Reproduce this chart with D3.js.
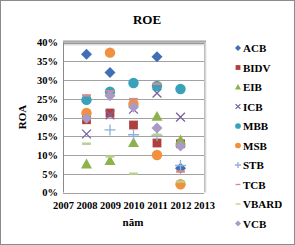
<!DOCTYPE html>
<html><head><meta charset="utf-8">
<script src="https://cdn.jsdelivr.net/npm/d3@7/dist/d3.min.js"></script>
<style>body{margin:0;background:#fff}svg{display:block}text{font-family:"Liberation Serif","Times New Roman",serif;font-weight:bold;fill:#000}</style>
</head><body><svg id="c" width="295" height="245"></svg>
<script>
const years = [2008, 2009, 2010, 2011, 2012];
const xTicks = [2007, 2008, 2009, 2010, 2011, 2012, 2013];
const yTicks = [0, 0.05, 0.10, 0.15, 0.20, 0.25, 0.30, 0.35, 0.40];
const seriesNames = ["ACB","BIDV","EIB","ICB","MBB","MSB","STB","TCB","VBARD","VCB"];
const ACB   = [0.369, 0.320, null,  0.362, 0.065];
const BIDV  = [0.194, 0.212, 0.180, 0.132, 0.130];
const EIB   = [0.076, 0.085, 0.133, 0.203, 0.140];
const ICB   = [0.156, 0.207, 0.222, 0.265, 0.201];
const MBB   = [0.247, 0.269, 0.292, 0.284, 0.276];
const MSB   = [0.212, 0.373, 0.236, 0.100, 0.022];
const STB   = [null,  0.167, 0.154, 0.152, 0.072];
const TCB   = [0.259, 0.270, 0.249, 0.290, 0.056];
const VBARD = [0.130, 0.096, 0.050, 0.154, 0.029];
const VCB   = [0.198, 0.258, 0.228, 0.172, 0.124];
const seriesValues = [ACB,BIDV,EIB,ICB,MBB,MSB,STB,TCB,VBARD,VCB];
const colors = ["#3F70B6","#B0403E","#8DB24C","#7A649E","#3AA1BA","#F0913F","#8FB0D8","#D58A8C","#B9CF8E","#A99AC6"];
const shapes = ["diamond","square","triangle","x","circle","circle","plus","dash","dash","diamond"];

const svg = d3.select("#c");
svg.append("rect").attr("x",0.5).attr("y",0.5).attr("width",294).attr("height",244).attr("fill","#fff").attr("stroke","#8c8c8c");

const L = 63, R = 204, T = 42.5, B = 192.5;
const x = d3.scaleLinear().domain([2007,2013]).range([L,R]);
const y = d3.scaleLinear().domain([0,0.40]).range([B,T]);

const defs = svg.append("defs");
const g1 = defs.append("linearGradient").attr("id","tg").attr("x1",0).attr("y1",0).attr("x2",0).attr("y2",1);
g1.append("stop").attr("offset","0").attr("stop-color","#9a9a9a");
g1.append("stop").attr("offset","1").attr("stop-color","#ffffff");
const g2 = defs.append("linearGradient").attr("id","rg").attr("x1",0).attr("y1",0).attr("x2",1).attr("y2",0);
g2.append("stop").attr("offset","0").attr("stop-color","#b0b0b0");
g2.append("stop").attr("offset","1").attr("stop-color","#ffffff");

svg.append("rect").attr("x",L).attr("y",T-2).attr("width",R-L+2).attr("height",6).attr("fill","url(#tg)");
svg.append("rect").attr("x",R).attr("y",T).attr("width",3).attr("height",B-T).attr("fill","url(#rg)");

// grid
svg.append("g").selectAll("line").data(yTicks).join("line")
  .attr("x1",L).attr("x2",R).attr("y1",d=>Math.round(y(d))+0.5).attr("y2",d=>Math.round(y(d))+0.5)
  .attr("stroke","#8a8a8a").attr("stroke-width",0.8);
svg.append("line").attr("x1",L+0.5).attr("x2",L+0.5).attr("y1",T).attr("y2",B).attr("stroke","#8a8a8a");

// axes
const ya = d3.axisLeft(y).tickValues(yTicks).tickFormat(d3.format(".0%")).tickSize(0).tickPadding(5);
const yg = svg.append("g").attr("transform",`translate(${L},0)`).call(ya);
yg.select(".domain").remove();
yg.selectAll("text").attr("font-size","10.5px").attr("font-family","Liberation Serif").attr("font-weight","bold").attr("fill","#000");
const xa = d3.axisBottom(x).tickValues(xTicks).tickFormat(d3.format("d")).tickSize(0).tickPadding(9);
const xg = svg.append("g").attr("transform",`translate(0,${B})`).call(xa);
xg.select(".domain").remove();
xg.selectAll("text").attr("font-size","10.5px").attr("font-family","Liberation Serif").attr("font-weight","bold").attr("fill","#000");

svg.append("text").attr("x",147).attr("y",24).attr("text-anchor","middle").attr("font-size","13px").text("ROE");
svg.append("text").attr("transform","translate(26,117) rotate(-90)").attr("text-anchor","middle").attr("font-size","11px").text("ROA");
svg.append("text").attr("x",133).attr("y",226).attr("text-anchor","middle").attr("font-size","11px").text("năm");

function drawMarker(sel, shape, color, s){
  if(shape==="diamond") sel.append("path").attr("d",`M0,${-s}L${s},0L0,${s}L${-s},0Z`).attr("fill",color);
  else if(shape==="square") sel.append("rect").attr("x",-s*0.8).attr("y",-s*0.8).attr("width",s*1.6).attr("height",s*1.6).attr("fill",color);
  else if(shape==="triangle") sel.append("path").attr("d",`M0,${-s}L${s},${s*0.8}L${-s},${s*0.8}Z`).attr("fill",color);
  else if(shape==="circle") sel.append("circle").attr("r",s*0.95).attr("fill",color);
  else if(shape==="x") sel.append("path").attr("d",`M${-s*0.8},${-s*0.8}L${s*0.8},${s*0.8}M${-s*0.8},${s*0.8}L${s*0.8},${-s*0.8}`).attr("stroke",color).attr("stroke-width",1.3).attr("fill","none");
  else if(shape==="plus") sel.append("path").attr("d",`M${-s},0L${s},0M0,${-s}L0,${s}`).attr("stroke",color).attr("stroke-width",1.3).attr("fill","none");
  else if(shape==="dash") sel.append("rect").attr("x",-s*0.8).attr("y",-s*0.22).attr("width",s*1.6).attr("height",s*0.44).attr("fill",color);
}

seriesNames.forEach((name,i)=>{
  const g = svg.append("g");
  seriesValues[i].forEach((v,j)=>{
    if(v==null) return;
    const m = g.append("g").attr("transform",`translate(${x(years[j])},${y(v)})`);
    drawMarker(m, shapes[i], colors[i], 5.5);
  });
});

// legend
const lg = svg.append("g");
seriesNames.forEach((name,i)=>{
  const yy = 48 + i*19.5;
  const m = lg.append("g").attr("transform",`translate(238,${yy})`);
  drawMarker(m, shapes[i], colors[i], 3);
  lg.append("text").attr("x",243).attr("y",yy+4).attr("font-size","11px").text(name);
});
</script></body></html>
